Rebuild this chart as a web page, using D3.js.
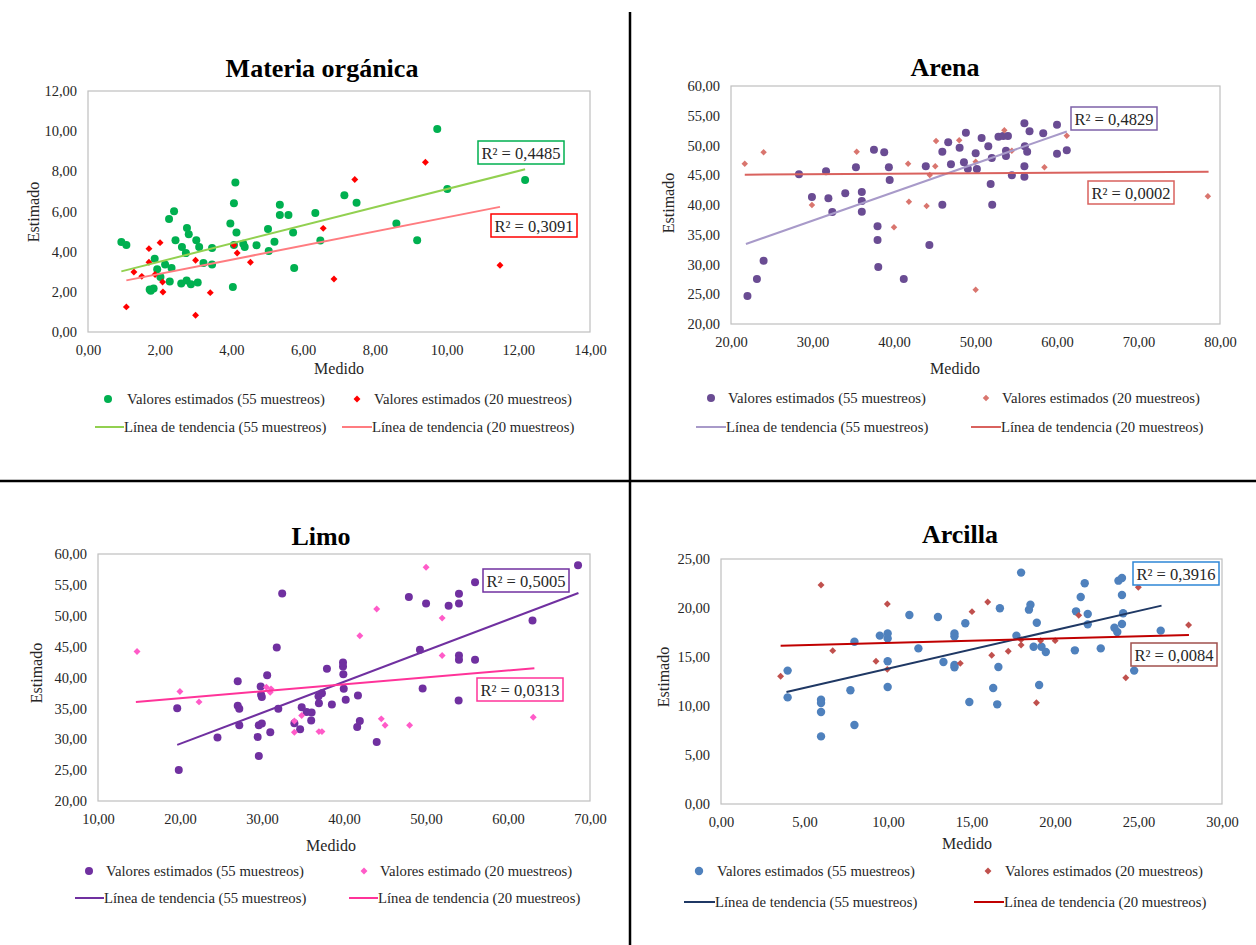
<!DOCTYPE html>
<html>
<head>
<meta charset="utf-8">
<script src="https://cdn.jsdelivr.net/npm/d3@7"></script>
<style>
  body { margin: 0; background: #fff; }
</style>
</head>
<body>
<script>
// Materia orgánica: [medido, estimado]
const materia55 = [[0.93,4.48],[1.07,4.33],[2.40,6.01],[2.26,5.63],[2.76,5.18],[2.81,4.87],[2.44,4.57],[2.62,4.23],[2.73,3.93],[3.02,4.57],[3.10,4.23],[3.46,4.18],[3.22,3.44],[3.46,3.36],[1.86,3.65],[1.93,3.12],[2.15,3.36],[2.33,3.19],[2.02,2.74],[2.28,2.52],[2.60,2.41],[2.75,2.57],[2.87,2.38],[3.06,2.47],[1.72,2.11],[1.83,2.16],[1.75,2.05],[4.04,2.24],[3.97,5.40],[4.11,7.45],[4.07,6.41],[4.14,4.95],[4.07,4.33],[4.33,4.40],[4.37,4.23],[4.70,4.32],[5.02,5.13],[5.04,4.03],[5.20,4.50],[5.35,6.34],[5.35,5.83],[5.59,5.83],[5.72,4.95],[5.75,3.19],[6.34,5.93],[6.48,4.55],[7.15,6.81],[7.49,6.44],[9.74,10.11],[10.02,7.12],[12.19,7.57],[8.60,5.40],[9.18,4.57]];
const materia20 = [[1.07,1.25],[1.28,2.99],[1.50,2.77],[1.70,4.15],[1.70,3.47],[2.01,4.45],[1.87,2.86],[2.08,2.49],[2.09,1.99],[3.00,3.57],[3.00,0.83],[3.41,1.96],[4.07,4.33],[4.16,3.93],[4.53,3.47],[6.56,5.16],[6.86,2.64],[7.44,7.59],[9.41,8.45],[11.49,3.32]];
const materiaTend55 = [[0.93,3.02],[12.19,8.10]];
const materiaTend20 = [[1.07,2.57],[11.49,6.23]];

// Arena
const arena55 = [[22.02,24.71],[23.18,27.56],[24.0,30.64],[28.34,45.15],[29.93,41.34],[31.66,45.66],[31.95,41.12],[32.43,38.82],[34.02,41.96],[35.33,46.33],[36.05,42.18],[36.05,40.67],[36.05,38.88],[37.54,49.30],[38.80,48.85],[37.98,36.41],[37.98,34.12],[38.07,29.58],[39.37,46.33],[39.47,44.20],[41.20,27.56],[43.90,46.50],[44.34,33.28],[45.93,48.96],[45.93,40.06],[46.65,50.53],[46.99,46.83],[48.05,49.64],[48.58,47.17],[48.82,52.16],[49.06,46.11],[50.02,48.68],[50.17,46.05],[50.75,51.26],[51.57,49.86],[52.0,47.90],[51.86,43.53],[52.05,40.06],[52.82,51.48],[53.40,51.60],[53.98,51.60],[53.74,49.13],[53.74,48.24],[54.46,44.99],[56.0,53.73],[56.05,49.86],[56.34,48.96],[56.0,46.50],[56.0,44.76],[56.63,52.38],[58.31,52.04],[60.0,53.50],[60.0,48.63],[61.2,49.19]];
const arena20 = [[21.69,46.95],[24.0,48.85],[29.93,40.0],[35.42,48.96],[40.0,36.25],[41.73,46.95],[41.83,40.56],[44.0,39.83],[44.39,45.04],[45.06,46.50],[45.16,50.76],[48.0,50.87],[50.02,47.28],[50.02,25.77],[53.54,52.55],[54.46,49.13],[58.46,46.33],[61.20,51.65],[78.51,41.46]];
const arenaTend55 = [[21.83,33.45],[61.2,52.35]];
const arenaTend20 = [[21.69,45.10],[78.6,45.6]];

// Limo
const limo55 = [[19.66,35.03],[19.85,25.03],[24.57,30.27],[27.04,39.41],[27.04,35.41],[27.23,34.92],[27.23,32.27],[29.47,30.38],[29.61,27.30],[29.84,38.54],[29.89,37.19],[29.98,36.86],[29.61,32.27],[29.98,32.54],[30.63,40.38],[31.01,31.14],[31.80,44.86],[31.99,34.92],[32.46,53.62],[33.95,32.59],[34.65,31.62],[34.84,35.19],[35.44,34.43],[36.05,34.32],[36.0,33.03],[36.89,36.97],[36.94,35.84],[37.31,37.46],[37.92,41.41],[38.52,35.62],[39.88,42.43],[39.88,41.78],[39.92,40.54],[39.97,38.16],[40.21,36.38],[41.70,37.08],[41.61,32.0],[41.93,32.97],[43.99,29.57],[47.91,53.03],[49.26,44.49],[49.59,38.22],[50.01,52.0],[52.76,51.62],[54.02,53.57],[54.02,52.0],[54.02,43.57],[54.02,42.86],[53.98,36.27],[55.98,55.41],[55.98,42.86],[62.99,49.24],[68.54,58.16]];
const limo20 = [[14.76,44.22],[19.99,37.73],[22.32,36.05],[30.54,38.43],[31.10,38.16],[31.0,37.62],[33.95,32.97],[33.95,31.14],[34.84,33.84],[36.94,31.24],[37.31,31.24],[41.93,46.76],[43.99,51.08],[44.55,33.30],[45.01,32.27],[48.0,32.27],[50.01,57.84],[51.97,49.62],[51.97,43.57],[63.08,33.57]];
const limoTend55 = [[19.66,29.08],[68.59,53.68]];
const limoTend20 = [[14.62,36.05],[63.22,41.51]];

// Arcilla
const arcilla55 = [[3.99,13.61],[3.99,10.88],[5.99,10.65],[5.99,10.31],[5.99,9.39],[5.99,6.90],[7.75,11.60],[7.99,16.56],[7.99,8.06],[9.51,17.18],[9.98,17.41],[9.98,16.90],[9.98,14.56],[9.98,11.94],[11.28,19.29],[11.82,15.88],[12.99,19.08],[13.32,14.49],[13.98,17.41],[13.98,17.11],[13.98,14.18],[13.98,13.95],[14.63,18.44],[14.87,10.41],[16.30,11.84],[16.54,10.17],[16.61,13.98],[16.70,19.97],[17.69,17.18],[17.97,23.61],[18.44,19.83],[18.53,20.34],[18.72,16.05],[18.91,18.50],[19.05,12.14],[19.19,16.05],[19.45,15.51],[21.19,15.68],[21.26,19.66],[21.54,21.12],[21.78,22.52],[21.96,19.39],[21.96,18.33],[22.74,15.88],[23.56,17.99],[23.73,17.55],[23.80,22.79],[24.01,23.06],[24.01,21.33],[24.01,18.37],[24.08,19.46],[24.74,13.61],[26.33,17.69]];
const arcilla20 = [[3.57,13.03],[5.99,22.35],[6.69,15.65],[9.28,14.56],[9.96,20.41],[9.96,13.74],[14.33,14.35],[15.03,19.63],[15.97,20.61],[16.21,15.17],[17.20,15.58],[17.97,16.22],[17.97,16.77],[18.89,10.34],[19.14,16.67],[20.01,16.67],[21.42,19.25],[24.24,12.89],[24.99,22.11],[28.0,18.27]];
const arcillaTend55 = [[3.92,11.43],[26.38,20.24]];
const arcillaTend20 = [[3.57,16.16],[28.02,17.24]];

const serif = "'Liberation Serif', 'Times New Roman', serif";
const fmt = v => d3.format(".2f")(v).replace(".", ",");

const svg = d3.select("body").append("svg")
    .attr("width", 1256)
    .attr("height", 945)
    .style("background", "#fff");

// dividing lines between the four charts
svg.append("line").attr("x1", 630).attr("x2", 630).attr("y1", 12).attr("y2", 945)
    .attr("stroke", "#000").attr("stroke-width", 2.5);
svg.append("line").attr("x1", 0).attr("x2", 1256).attr("y1", 481).attr("y2", 481)
    .attr("stroke", "#000").attr("stroke-width", 2.5);

const panels = [
  { title: "Materia orgánica", left: 88, right: 590, top: 91, bottom: 332,
    xDom: [0, 14], xStep: 2, yDom: [0, 12], yStep: 2,
    titleX: 322, titleY: 68, medX: 339, medY: 368, estX: 33, estY: 212,
    pts55: materia55, pts20: materia20, tr55: materiaTend55, tr20: materiaTend20,
    c55: "#00B050", c20: "#FF0000", t55: "#92D050", t20: "#FF7C80", r55: 4, d20: 24,
    boxes: [{ x: 478, y: 141, text: "R² = 0,4485", color: "#00B050" },
            { x: 491, y: 214, text: "R² = 0,3091", color: "#FF0000" }],
    legY: [399, 427], leg1: [108, 127, 357, 374], leg2: [95, 124, 342, 372],
    lab20: "Valores estimados (20 muestreos)" },
  { title: "Arena", left: 731, right: 1220, top: 86, bottom: 324,
    xDom: [20, 80], xStep: 10, yDom: [20, 60], yStep: 5,
    titleX: 945, titleY: 67, medX: 955, medY: 368, estX: 668, estY: 203,
    pts55: arena55, pts20: arena20, tr55: arenaTend55, tr20: arenaTend20,
    c55: "#6A4C93", c20: "#D9756E", t55: "#A89AC9", t20: "#D9625E", r55: 4, d20: 21,
    boxes: [{ x: 1071, y: 107, text: "R² = 0,4829", color: "#7E61A8" },
            { x: 1088, y: 181, text: "R² = 0,0002", color: "#D9625E" }],
    legY: [398, 427], leg1: [711, 728, 986, 1002], leg2: [696, 726, 971, 1001],
    lab20: "Valores estimados (20 muestreos)" },
  { title: "Limo", left: 98, right: 590, top: 554, bottom: 801,
    xDom: [10, 70], xStep: 10, yDom: [20, 60], yStep: 5,
    titleX: 321, titleY: 536, medX: 331, medY: 845, estX: 36, estY: 673,
    pts55: limo55, pts20: limo20, tr55: limoTend55, tr20: limoTend20,
    c55: "#7030A0", c20: "#FF5BC8", t55: "#7030A0", t20: "#FF3399", r55: 4, d20: 24,
    boxes: [{ x: 483, y: 569, text: "R² = 0,5005", color: "#7030A0" },
            { x: 477, y: 678, text: "R² = 0,0313", color: "#FF3399" }],
    legY: [871, 898], leg1: [89, 106, 364, 380], leg2: [75, 104, 349, 378],
    lab20: "Valores estimado (20 muestreos)" },
  { title: "Arcilla", left: 721, right: 1222, top: 559, bottom: 804,
    xDom: [0, 30], xStep: 5, yDom: [0, 25], yStep: 5,
    titleX: 960, titleY: 534, medX: 967, medY: 843, estX: 663, estY: 677,
    pts55: arcilla55, pts20: arcilla20, tr55: arcillaTend55, tr20: arcillaTend20,
    c55: "#4F81BD", c20: "#C0504D", t55: "#1F3864", t20: "#C00000", r55: 4.2, d20: 24,
    boxes: [{ x: 1133, y: 562, text: "R² = 0,3916", color: "#2E86D6" },
            { x: 1131, y: 643, text: "R² = 0,0084", color: "#A0504D" }],
    legY: [871, 902], leg1: [699, 717, 988, 1005], leg2: [684, 715, 974, 1004],
    lab20: "Valores estimados (20 muestreos)" }
];

const diamond = size => d3.symbol(d3.symbolSquare, size)();

panels.forEach(function (p) {
  const x = d3.scaleLinear().domain(p.xDom).range([p.left, p.right]);
  const y = d3.scaleLinear().domain(p.yDom).range([p.bottom, p.top]);
  const g = svg.append("g");

  // plot frame
  g.append("rect")
      .attr("x", p.left).attr("y", p.top)
      .attr("width", p.right - p.left).attr("height", p.bottom - p.top)
      .attr("fill", "none").attr("stroke", "#BFBFBF").attr("stroke-width", 1.2);

  // axes (labels only, the frame is the axis line)
  const xTicks = d3.range(p.xDom[0], p.xDom[1] + p.xStep / 2, p.xStep);
  const yTicks = d3.range(p.yDom[0], p.yDom[1] + p.yStep / 2, p.yStep);
  g.append("g")
      .attr("transform", "translate(0," + p.bottom + ")")
      .call(d3.axisBottom(x).tickValues(xTicks).tickFormat(fmt).tickSize(0).tickPadding(13))
      .call(a => a.select(".domain").remove())
      .attr("font-family", serif).attr("font-size", 14.5)
      .selectAll("text").attr("fill", "#262626");
  g.append("g")
      .attr("transform", "translate(" + p.left + ",0)")
      .call(d3.axisLeft(y).tickValues(yTicks).tickFormat(fmt).tickSize(0).tickPadding(11))
      .call(a => a.select(".domain").remove())
      .attr("font-family", serif).attr("font-size", 14.5)
      .selectAll("text").attr("fill", "#262626");

  // titles
  g.append("text").attr("x", p.titleX).attr("y", p.titleY).attr("dy", "0.35em")
      .attr("text-anchor", "middle").attr("font-family", serif)
      .attr("font-size", 26).attr("font-weight", "bold").text(p.title);
  g.append("text").attr("x", p.medX).attr("y", p.medY).attr("dy", "0.35em")
      .attr("text-anchor", "middle").attr("font-family", serif)
      .attr("font-size", 16).attr("fill", "#262626").text("Medido");
  g.append("text").attr("transform", "translate(" + p.estX + "," + p.estY + ") rotate(-90)")
      .attr("dy", "0.35em").attr("text-anchor", "middle").attr("font-family", serif)
      .attr("font-size", 16).attr("fill", "#262626").text("Estimado");

  // points
  g.append("g").selectAll("circle").data(p.pts55).enter().append("circle")
      .attr("cx", d => x(d[0])).attr("cy", d => y(d[1]))
      .attr("r", p.r55).attr("fill", p.c55);
  g.append("g").selectAll("path").data(p.pts20).enter().append("path")
      .attr("d", diamond(p.d20))
      .attr("transform", d => "translate(" + x(d[0]) + "," + y(d[1]) + ") rotate(45)")
      .attr("fill", p.c20);

  // trend lines
  const line = d3.line().x(d => x(d[0])).y(d => y(d[1]));
  g.append("path").datum(p.tr55).attr("d", line)
      .attr("fill", "none").attr("stroke", p.t55).attr("stroke-width", 2);
  g.append("path").datum(p.tr20).attr("d", line)
      .attr("fill", "none").attr("stroke", p.t20).attr("stroke-width", 2);

  // R² boxes
  p.boxes.forEach(function (b) {
    g.append("rect").attr("x", b.x).attr("y", b.y).attr("width", 86).attr("height", 23)
        .attr("fill", "#fff").attr("stroke", b.color).attr("stroke-width", 1.5);
    g.append("text").attr("x", b.x + 43).attr("y", b.y + 12).attr("dy", "0.35em")
        .attr("text-anchor", "middle").attr("font-family", serif).attr("font-size", 16.5)
        .attr("fill", "#262626").text(b.text);
  });

  // legend
  const lg = g.append("g").attr("font-family", serif).attr("font-size", 14.7).attr("fill", "#262626");
  lg.append("circle").attr("cx", p.leg1[0]).attr("cy", p.legY[0]).attr("r", p.r55).attr("fill", p.c55);
  lg.append("text").attr("x", p.leg1[1]).attr("y", p.legY[0]).attr("dy", "0.35em")
      .text("Valores estimados (55 muestreos)");
  lg.append("path").attr("d", diamond(p.d20))
      .attr("transform", "translate(" + p.leg1[2] + "," + p.legY[0] + ") rotate(45)")
      .attr("fill", p.c20);
  lg.append("text").attr("x", p.leg1[3]).attr("y", p.legY[0]).attr("dy", "0.35em").text(p.lab20);

  lg.append("line").attr("x1", p.leg2[0]).attr("x2", p.leg2[1]).attr("y1", p.legY[1]).attr("y2", p.legY[1])
      .attr("stroke", p.t55).attr("stroke-width", 2);
  lg.append("text").attr("x", p.leg2[1]).attr("y", p.legY[1]).attr("dy", "0.35em")
      .text("Línea de tendencia (55 muestreos)");
  lg.append("line").attr("x1", p.leg2[2]).attr("x2", p.leg2[3]).attr("y1", p.legY[1]).attr("y2", p.legY[1])
      .attr("stroke", p.t20).attr("stroke-width", 2);
  lg.append("text").attr("x", p.leg2[3]).attr("y", p.legY[1]).attr("dy", "0.35em")
      .text("Línea de tendencia (20 muestreos)");
});
</script>
</body>
</html>
